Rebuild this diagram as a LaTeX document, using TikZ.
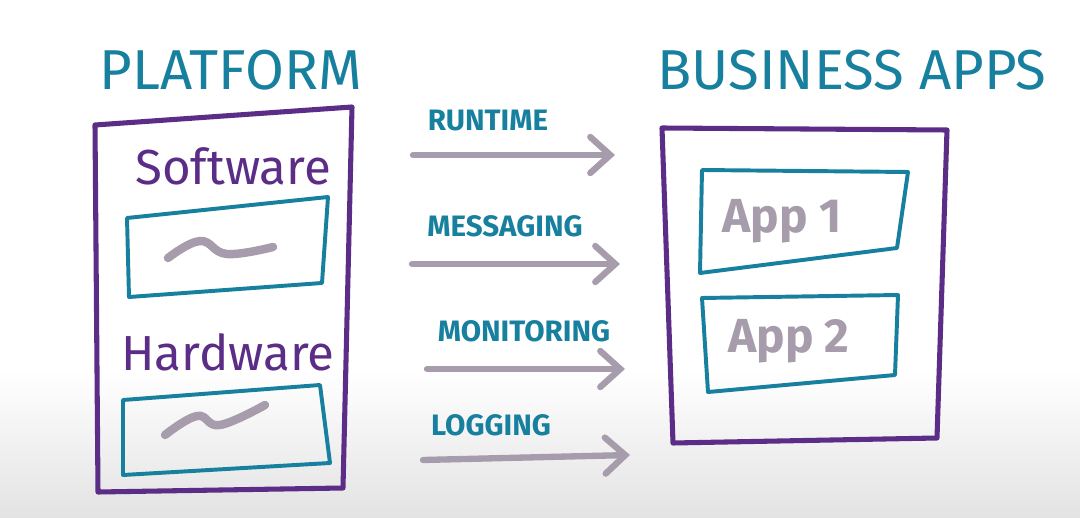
\documentclass[tikz,border=0pt]{standalone}
\usepackage{fontspec}
\setmainfont{Fira Sans}
\usetikzlibrary{arrows.meta}

\definecolor{platpurple}{HTML}{5B2D86}
\definecolor{platteal}{HTML}{17809E}
\definecolor{inkgray}{HTML}{A69CAB}

\begin{document}
\begin{tikzpicture}[
    x=0.025cm, y=-0.025cm,
    title/.style={text=platteal, font=\fontsize{40}{42}\selectfont},
    layer/.style={text=platpurple, font=\fontsize{35}{38}\selectfont},
    service/.style={text=platteal, font=\fontsize{21}{24}\selectfont\bfseries},
    appname/.style={text=inkgray, font=\fontsize{34}{37}\selectfont\bfseries},
    outerbox/.style={draw=platpurple, line width=3.6pt, line join=round, line cap=round},
    innerbox/.style={draw=platteal, line width=2.8pt, line join=round, line cap=round},
    scribble/.style={draw=inkgray, line width=6pt, line cap=round},
    flow/.style={draw=inkgray, line width=4.5pt, line cap=round,
        -{Straight Barb[length=5mm, width=9mm, line cap=round]}}
]

% background
\fill[white] (0,0) rectangle (1080,518);
\shade[top color=white, bottom color=black!11] (0,370) rectangle (1080,518);
\useasboundingbox (0,0) rectangle (1080,518);

% titles
\node[title] (platform) at (231,70) {PLATFORM};
\node[title] (business) at (852,70) {BUSINESS APPS};

% platform side
\draw[outerbox] (95,125) -- (352,107) -- (343,488) -- (98,492) -- cycle;
\node[layer] (software) at (233,166) {Software};
\draw[innerbox] (127,218) -- (328,197) -- (322,283) -- (129,297) -- cycle;
\draw[scribble] plot[smooth, tension=0.7] coordinates {(168,258) (200,241) (227,254) (273,247)};
\node[layer] (hardware) at (228,352) {Hardware};
\draw[innerbox] (123,400) -- (320,385) -- (330,463) -- (123,475) -- cycle;
\draw[scribble] plot[smooth, tension=0.7] coordinates {(165,435) (197,416) (220,425) (265,405)};

% services
\node[service] (runtime) at (488,121) {RUNTIME};
\coordinate (rt-s) at (413,155);
\coordinate (rt-e) at (615,155);
\draw[flow] (rt-s) -- (rt-e);

\node[service] (messaging) at (505,226) {MESSAGING};
\coordinate (ms-s) at (412,264);
\coordinate (ms-e) at (620,264);
\draw[flow] (ms-s) -- (ms-e);

\node[service] (monitoring) at (524,331) {MONITORING};
\coordinate (mn-s) at (427,369);
\coordinate (mn-e) at (625,369);
\draw[flow] (mn-s) -- (mn-e);

\node[service] (logging) at (491,425) {LOGGING};
\coordinate (lg-s) at (423,460);
\coordinate (lg-e) at (630,455);
\draw[flow] (lg-s) -- (lg-e);

% business apps side
\draw[outerbox] (662,128) -- (947,130) -- (937,438) -- (673,443) -- cycle;
\draw[innerbox] (702,170) -- (908,172) -- (897,248) -- (700,273) -- cycle;
\node[appname] (app1) at (782,221) {App 1};
\draw[innerbox] (702,298) -- (898,295) -- (895,375) -- (708,392) -- cycle;
\node[appname] (app2) at (789,341) {App 2};

\end{tikzpicture}
\end{document}
